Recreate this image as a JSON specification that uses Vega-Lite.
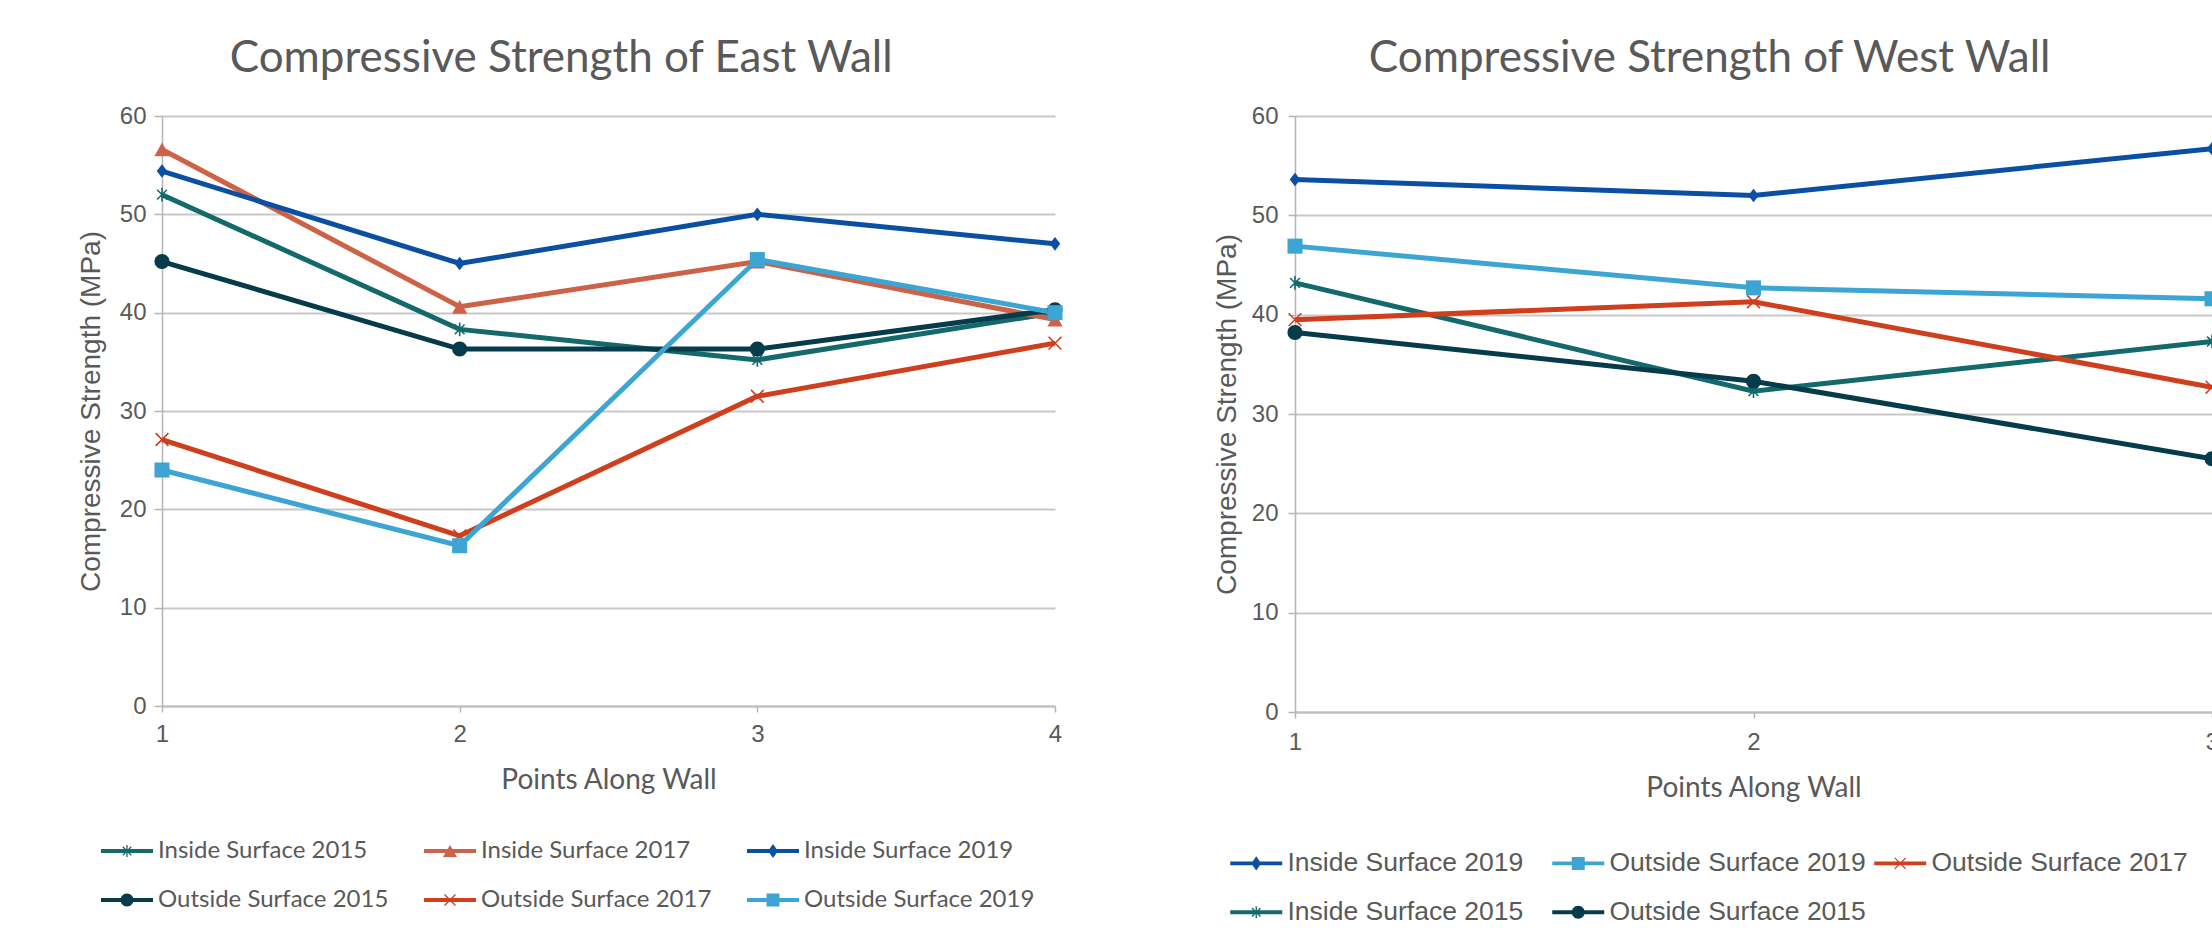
{
  "$schema": "https://vega.github.io/schema/vega-lite/v6.json",
  "background": "white",
  "padding": {"left": 77, "top": 37, "right": 0, "bottom": 0},
  "autosize": {"type": "pad"},
  "datasets": {
    "east": [
      {"series": "Inside Surface 2015", "point": 1, "value": 52.0},
      {"series": "Inside Surface 2015", "point": 2, "value": 38.3},
      {"series": "Inside Surface 2015", "point": 3, "value": 35.2},
      {"series": "Inside Surface 2015", "point": 4, "value": 40.0},
      {"series": "Inside Surface 2017", "point": 1, "value": 56.6},
      {"series": "Inside Surface 2017", "point": 2, "value": 40.6},
      {"series": "Inside Surface 2017", "point": 3, "value": 45.2},
      {"series": "Inside Surface 2017", "point": 4, "value": 39.3},
      {"series": "Inside Surface 2019", "point": 1, "value": 54.4},
      {"series": "Inside Surface 2019", "point": 2, "value": 45.0},
      {"series": "Inside Surface 2019", "point": 3, "value": 50.0},
      {"series": "Inside Surface 2019", "point": 4, "value": 47.0},
      {"series": "Outside Surface 2015", "point": 1, "value": 45.2},
      {"series": "Outside Surface 2015", "point": 2, "value": 36.3},
      {"series": "Outside Surface 2015", "point": 3, "value": 36.3},
      {"series": "Outside Surface 2015", "point": 4, "value": 40.3},
      {"series": "Outside Surface 2017", "point": 1, "value": 27.1},
      {"series": "Outside Surface 2017", "point": 2, "value": 17.3},
      {"series": "Outside Surface 2017", "point": 3, "value": 31.5},
      {"series": "Outside Surface 2017", "point": 4, "value": 36.9},
      {"series": "Outside Surface 2019", "point": 1, "value": 24.0},
      {"series": "Outside Surface 2019", "point": 2, "value": 16.3},
      {"series": "Outside Surface 2019", "point": 3, "value": 45.4},
      {"series": "Outside Surface 2019", "point": 4, "value": 40.0}
    ],
    "west": [
      {"series": "Inside Surface 2015", "point": 1, "value": 43.2},
      {"series": "Inside Surface 2015", "point": 2, "value": 32.3},
      {"series": "Inside Surface 2015", "point": 3, "value": 37.3},
      {"series": "Outside Surface 2015", "point": 1, "value": 38.2},
      {"series": "Outside Surface 2015", "point": 2, "value": 33.3},
      {"series": "Outside Surface 2015", "point": 3, "value": 25.5},
      {"series": "Outside Surface 2017", "point": 1, "value": 39.5},
      {"series": "Outside Surface 2017", "point": 2, "value": 41.3},
      {"series": "Outside Surface 2017", "point": 3, "value": 32.7},
      {"series": "Outside Surface 2019", "point": 1, "value": 46.9},
      {"series": "Outside Surface 2019", "point": 2, "value": 42.7},
      {"series": "Outside Surface 2019", "point": 3, "value": 41.6},
      {"series": "Inside Surface 2019", "point": 1, "value": 53.6},
      {"series": "Inside Surface 2019", "point": 2, "value": 52.0},
      {"series": "Inside Surface 2019", "point": 3, "value": 56.7}
    ]
  },
  "hconcat": [
    {
      "width": 893,
      "height": 590,
      "title": {"text": "Compressive Strength of East Wall", "dx": -13},
      "data": {"name": "east"},
      "encoding": {
        "x": {"field": "point", "type": "quantitative", "scale": {"domain": [1, 4], "nice": false, "zero": false},
              "axis": {"values": [1, 2, 3, 4], "tickCount": 10, "format": "d", "title": "Points Along Wall", "grid": false, "labelFlush": false, "labelOverlap": false, "domainColor": "#bfbfbf", "domainWidth": 2, "tickSize": 6, "tickWidth": 1.5, "labelPadding": 10, "titleFont": "Lato", "titleFontSize": 28, "titlePadding": 20}},
        "y": {"field": "value", "type": "quantitative", "scale": {"domain": [0, 60], "nice": false},
              "axis": {"values": [0, 10, 20, 30, 40, 50, 60], "tickCount": 10, "title": "Compressive Strength (MPa)", "grid": true, "labelFlush": false, "labelOverlap": false, "domainColor": "#b4b4b4", "domainWidth": 1.5, "tickSize": 8, "tickWidth": 1.5, "labelPadding": 8, "titleFont": "Liberation Sans", "titleFontSize": 28, "titlePadding": 14}}
      },
      "layer": [
        {
          "mark": {"type": "line", "strokeWidth": 5},
          "encoding": {
            "stroke": {"field": "series", "type": "nominal", "legend": null,
                       "scale": {"domain": ["Outside Surface 2019", "Outside Surface 2017", "Outside Surface 2015", "Inside Surface 2019", "Inside Surface 2017", "Inside Surface 2015"],
                                 "range": ["#3ca5d4", "#cf3f1d", "#063b4c", "#0b4fa3", "#cc6248", "#13696c"]}}
          }
        },
        {
          "mark": {"type": "point", "filled": true, "opacity": 1, "size": 256, "strokeWidth": 0},
          "encoding": {
            "fill": {"field": "series", "type": "nominal", "legend": null,
                     "scale": {"domain": ["Inside Surface 2019", "Inside Surface 2017", "Inside Surface 2015", "Outside Surface 2019", "Outside Surface 2017", "Outside Surface 2015"],
                               "range": ["#0b4fa3", "#cc6248", "#13696c", "#3ca5d4", "#cf3f1d", "#063b4c"]}},
            "shape": {
              "condition": [
                {"test": "datum.series === 'Inside Surface 2015'", "value": "M-0.1,-0.86H0.1V0.86H-0.1ZM-0.54,-0.68L0.68,0.54L0.54,0.68L-0.68,-0.54ZM0.68,-0.54L-0.54,0.68L-0.68,0.54L0.54,-0.68Z"},
                {"test": "datum.series === 'Inside Surface 2017'", "value": "M0,-0.86L0.95,0.86L-0.95,0.86Z"},
                {"test": "datum.series === 'Inside Surface 2019'", "value": "M0,-0.85L0.66,0L0,0.85L-0.66,0Z"},
                {"test": "datum.series === 'Outside Surface 2015'", "value": "M-0.94,0A0.94,0.94,0,1,1,0.94,0A0.94,0.94,0,1,1,-0.94,0Z"},
                {"test": "datum.series === 'Outside Surface 2017'", "value": "M-0.73,-0.87L0.87,0.73L0.73,0.87L-0.87,-0.73ZM0.87,-0.73L-0.73,0.87L-0.87,0.73L0.73,-0.87Z"}
              ],
              "value": "M-0.94,-0.94H0.94V0.94H-0.94Z"
            }
          }
        },
        {
          "mark": {"type": "point", "filled": true, "opacity": 0, "size": 256, "strokeWidth": 0},
          "encoding": {
            "color": {"field": "series", "type": "nominal",
                      "scale": {"domain": ["Inside Surface 2015", "Inside Surface 2017", "Inside Surface 2019", "Outside Surface 2015", "Outside Surface 2017", "Outside Surface 2019"],
                                "range": ["#13696c", "#cc6248", "#0b4fa3", "#063b4c", "#cf3f1d", "#3ca5d4"]},
                      "legend": {"title": null, "orient": "none", "legendX": -48, "legendY": 722, "direction": "horizontal", "columns": 3, "gridAlign": "all", "columnPadding": 35, "rowPadding": 24, "symbolSize": 676, "symbolOpacity": 1, "symbolStrokeWidth": 0, "labelFont": "Lato", "labelFontSize": 24, "labelColor": "#595959", "labelOffset": 18, "padding": 0, "labelLimit": 400}},
            "shape": {"field": "series", "type": "nominal",
                      "scale": {"domain": ["Inside Surface 2015", "Inside Surface 2017", "Inside Surface 2019", "Outside Surface 2015", "Outside Surface 2017", "Outside Surface 2019"],
                                "range": [
                                  "M-2,-0.15H2V0.15H-2ZM-0.05,-0.46H0.05V0.46H-0.05ZM-0.295,-0.365L0.365,0.295L0.295,0.365L-0.365,-0.295ZM0.365,-0.295L-0.295,0.365L-0.365,0.295L0.295,-0.365Z",
                                  "M-2,-0.15H2V0.15H-2ZM0,-0.46L0.54,0.46L-0.54,0.46Z",
                                  "M-2,-0.15H2V0.15H-2ZM0,-0.54L0.38,0L0,0.54L-0.38,0Z",
                                  "M-2,-0.15H2V0.15H-2ZM-0.5,0A0.5,0.5,0,1,1,0.5,0A0.5,0.5,0,1,1,-0.5,0Z",
                                  "M-2,-0.15H2V0.15H-2ZM-0.385,-0.455L0.455,0.385L0.385,0.455L-0.455,-0.385ZM0.455,-0.385L-0.385,0.455L-0.455,0.385L0.385,-0.455Z",
                                  "M-2,-0.15H2V0.15H-2ZM-0.5,-0.5H0.5V0.5H-0.5Z"
                                ]},
                      "legend": {"title": null, "orient": "none", "legendX": -48, "legendY": 722, "direction": "horizontal", "columns": 3, "gridAlign": "all", "columnPadding": 35, "rowPadding": 24, "symbolSize": 676, "symbolOpacity": 1, "symbolStrokeWidth": 0, "labelFont": "Lato", "labelFontSize": 24, "labelColor": "#595959", "labelOffset": 18, "padding": 0, "labelLimit": 400}}
          }
        }
      ]
    },
    {
      "width": 917,
      "height": 596,
      "title": {"text": "Compressive Strength of West Wall", "dx": -11},
      "data": {"name": "west"},
      "encoding": {
        "x": {"field": "point", "type": "ordinal", "scale": {"type": "point", "padding": 0, "domain": [1, 2, 3]},
              "axis": {"labelAngle": 0, "title": "Points Along Wall", "grid": false, "labelOverlap": false, "domainColor": "#bfbfbf", "domainWidth": 2, "ticks": true, "tickSize": 6, "tickWidth": 1.5, "labelPadding": 12, "titleFont": "Lato", "titleFontSize": 28, "titlePadding": 20}},
        "y": {"field": "value", "type": "quantitative", "scale": {"domain": [0, 60], "nice": false},
              "axis": {"values": [0, 10, 20, 30, 40, 50, 60], "tickCount": 10, "title": "Compressive Strength (MPa)", "grid": true, "labelFlush": false, "labelOverlap": false, "domainColor": "#b4b4b4", "domainWidth": 1.5, "tickSize": 7, "tickWidth": 1.5, "labelPadding": 10, "titleFont": "Liberation Sans", "titleFontSize": 28, "titlePadding": 10}}
      },
      "layer": [
        {
          "mark": {"type": "line", "strokeWidth": 5},
          "encoding": {
            "stroke": {"field": "series", "type": "nominal", "legend": null,
                       "scale": {"domain": ["Outside Surface 2015", "Inside Surface 2015", "Outside Surface 2017", "Outside Surface 2019", "Inside Surface 2019"],
                                 "range": ["#063b4c", "#13696c", "#cf3f1d", "#3ca5d4", "#0b4fa3"]}}
          }
        },
        {
          "mark": {"type": "point", "filled": true, "opacity": 1, "size": 256, "strokeWidth": 0},
          "encoding": {
            "fill": {"field": "series", "type": "nominal", "legend": null,
                     "scale": {"domain": ["Outside Surface 2017", "Inside Surface 2019", "Outside Surface 2019", "Outside Surface 2015", "Inside Surface 2015"],
                               "range": ["#cf3f1d", "#0b4fa3", "#3ca5d4", "#063b4c", "#13696c"]}},
            "shape": {
              "condition": [
                {"test": "datum.series === 'Inside Surface 2015'", "value": "M-0.1,-0.86H0.1V0.86H-0.1ZM-0.54,-0.68L0.68,0.54L0.54,0.68L-0.68,-0.54ZM0.68,-0.54L-0.54,0.68L-0.68,0.54L0.54,-0.68Z"},
                {"test": "datum.series === 'Inside Surface 2019'", "value": "M0,-0.85L0.66,0L0,0.85L-0.66,0Z"},
                {"test": "datum.series === 'Outside Surface 2015'", "value": "M-0.94,0A0.94,0.94,0,1,1,0.94,0A0.94,0.94,0,1,1,-0.94,0Z"},
                {"test": "datum.series === 'Outside Surface 2017'", "value": "M-0.73,-0.87L0.87,0.73L0.73,0.87L-0.87,-0.73ZM0.87,-0.73L-0.73,0.87L-0.87,0.73L0.73,-0.87Z"}
              ],
              "value": "M-0.94,-0.94H0.94V0.94H-0.94Z"
            }
          }
        },
        {
          "mark": {"type": "point", "filled": true, "opacity": 0, "size": 256, "strokeWidth": 0},
          "encoding": {
            "color": {"field": "series", "type": "nominal",
                      "scale": {"domain": ["Inside Surface 2019", "Outside Surface 2019", "Outside Surface 2017", "Inside Surface 2015", "Outside Surface 2015"],
                                "range": ["#0b4fa3", "#3ca5d4", "#cf3f1d", "#13696c", "#063b4c"]},
                      "legend": {"title": null, "orient": "none", "legendX": -52, "legendY": 734, "direction": "horizontal", "columns": 3, "gridAlign": "all", "columnPadding": 8, "rowPadding": 22, "symbolSize": 676, "symbolOpacity": 1, "symbolStrokeWidth": 0, "labelFont": "Liberation Sans", "labelFontSize": 26.5, "labelColor": "#595959", "labelOffset": 18, "padding": 0, "labelLimit": 400}},
            "shape": {"field": "series", "type": "nominal",
                      "scale": {"domain": ["Inside Surface 2019", "Outside Surface 2019", "Outside Surface 2017", "Inside Surface 2015", "Outside Surface 2015"],
                                "range": [
                                  "M-2,-0.15H2V0.15H-2ZM0,-0.54L0.38,0L0,0.54L-0.38,0Z",
                                  "M-2,-0.15H2V0.15H-2ZM-0.5,-0.5H0.5V0.5H-0.5Z",
                                  "M-2,-0.15H2V0.15H-2ZM-0.385,-0.455L0.455,0.385L0.385,0.455L-0.455,-0.385ZM0.455,-0.385L-0.385,0.455L-0.455,0.385L0.385,-0.455Z",
                                  "M-2,-0.15H2V0.15H-2ZM-0.05,-0.46H0.05V0.46H-0.05ZM-0.295,-0.365L0.365,0.295L0.295,0.365L-0.365,-0.295ZM0.365,-0.295L-0.295,0.365L-0.365,0.295L0.295,-0.365Z",
                                  "M-2,-0.15H2V0.15H-2ZM-0.5,0A0.5,0.5,0,1,1,0.5,0A0.5,0.5,0,1,1,-0.5,0Z"
                                ]},
                      "legend": {"title": null, "orient": "none", "legendX": -52, "legendY": 734, "direction": "horizontal", "columns": 3, "gridAlign": "all", "columnPadding": 8, "rowPadding": 22, "symbolSize": 676, "symbolOpacity": 1, "symbolStrokeWidth": 0, "labelFont": "Liberation Sans", "labelFontSize": 26.5, "labelColor": "#595959", "labelOffset": 18, "padding": 0, "labelLimit": 400}}
          }
        }
      ]
    }
  ],
  "spacing": 142,
  "resolve": {
    "scale": {"color": "independent", "shape": "independent", "fill": "independent", "stroke": "independent", "x": "independent", "y": "independent"},
    "legend": {"color": "independent", "shape": "independent", "fill": "independent", "stroke": "independent"}
  },
  "config": {
    "view": {"stroke": null},
    "axis": {"labelFont": "Liberation Sans", "labelFontSize": 24, "labelColor": "#595959", "titleColor": "#595959", "titleFontWeight": "normal", "tickColor": "#b4b4b4", "gridColor": "#c8c8c8", "gridWidth": 2},
    "title": {"font": "Lato", "fontSize": 44, "fontWeight": "normal", "color": "#595959", "anchor": "middle", "frame": "bounds", "offset": 23}
  }
}
